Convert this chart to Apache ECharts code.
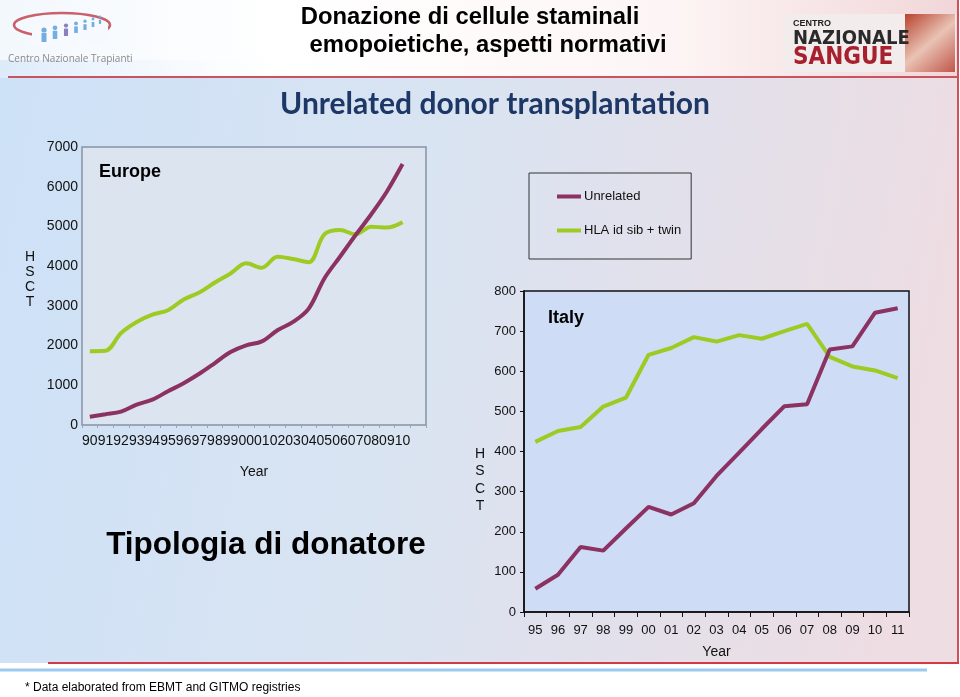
<!DOCTYPE html>
<html>
<head>
<meta charset="utf-8">
<script src="https://cdn.jsdelivr.net/npm/echarts@6/dist/echarts.min.js"></script>
<style>
html,body{margin:0;padding:0;background:#fff;}
#c{width:960px;height:697px;}
</style>
</head>
<body>
<div id="c"></div>
<script>
// ---- data ----
const euroYears = ['90','91','92','93','94','95','96','97','98','99','00','01','02','03','04','05','06','07','08','09','10',''];
const euroUnrelated = [210,270,337,513,640,850,1054,1290,1560,1837,2005,2105,2385,2595,2930,3690,4237,4785,5307,5880,6570];
const euroSibling = [1860,1870,2317,2595,2780,2890,3160,3335,3590,3815,4070,3960,4237,4180,4100,4800,4910,4800,4995,4970,5105];
const euroTicks = [0,1000,2000,3000,4000,5000,6000,7000];

const italyYears = ['95','96','97','98','99','00','01','02','03','04','05','06','07','08','09','10','11'];
const italyUnrelated = [58,93,162,153,208,262,243,271,339,397,456,513,518,654,662,746,757];
const italySibling = [424,451,461,512,534,641,658,685,674,690,681,700,718,636,612,602,583];
const italyTicks = [0,100,200,300,400,500,600,700,800];

const seriesNames = ['Unrelated','HLA id sib + twin'];
const PURPLE = '#8c3262';
const GREEN = '#9dcb23';
const FONT = '"Liberation Sans", Arial, sans-serif';

const chart = echarts.init(document.getElementById('c'), null, {renderer:'canvas'});

function txt(text, x, y, size, opts){
  opts = opts || {};
  const st = {text:text, x:x, y:y,
    font:(opts.weight||'normal')+' '+size+'px '+(opts.family||FONT),
    fill:opts.color||'#000', textAlign:opts.align||'left', textVerticalAlign:'middle'};
  if (opts.lineHeight) st.lineHeight = opts.lineHeight;
  return {type:'text', z: 10, style:st};
}

// small "people" figures of the left logo
const people = [];
const peopleX = [44,55,66,76,85,93,100];
peopleX.forEach(function(px, i){
  const s = 1 - i*0.09;
  const col = i === 2 ? '#8a7fbf' : '#74aee0';
  people.push({type:'circle', z:-2, shape:{cx:px, cy:30 - i*2.2, r:2.6*s}, style:{fill:col}});
  people.push({type:'rect', z:-2, shape:{x:px-2.5*s, y:33 - i*2.2, width:5*s, height:9*s}, style:{fill:col}});
});

const graphics = [
  // slide background
  {type:'rect', z:-10, shape:{x:0,y:0,width:960,height:697}, style:{fill:'#ffffff'}},
  {type:'rect', z:-9, shape:{x:0,y:78,width:958,height:585},
   style:{fill:new echarts.graphic.LinearGradient(0,0,1,0.3,[
     {offset:0,color:'#cde1f7'},{offset:0.45,color:'#d9e4f2'},{offset:0.75,color:'#e3e0ea'},{offset:1,color:'#eedde3'}])}},
  {type:'rect', z:-9, shape:{x:0,y:0,width:958,height:78},
   style:{fill:new echarts.graphic.LinearGradient(0,0,1,0,[
     {offset:0,color:'#f3f8fd'},{offset:0.3,color:'#ffffff'},{offset:0.7,color:'#fdf5f5'},{offset:1,color:'#f1d6d9'}])}},
  {type:'rect', z:-8, shape:{x:0,y:60,width:300,height:18},
   style:{fill:new echarts.graphic.LinearGradient(0,0,1,0,[
     {offset:0,color:'rgba(205,225,247,0.6)'},{offset:1,color:'rgba(255,255,255,0)'}])}},
  // header line
  {type:'line', z:-5, shape:{x1:8,y1:77,x2:957,y2:77}, style:{stroke:'#c9545f',lineWidth:2}},
  // right border
  {type:'line', z:-5, shape:{x1:958,y1:0,x2:958,y2:663}, style:{stroke:'#d0505c',lineWidth:2}},
  // bottom lines
  {type:'line', z:-5, shape:{x1:48,y1:663,x2:959,y2:663}, style:{stroke:'#d23a48',lineWidth:2}},
  {type:'rect', z:-5, shape:{x:0,y:665,width:960,height:32}, style:{fill:'#ffffff'}},
  {type:'line', z:-5, shape:{x1:0,y1:670,x2:927,y2:670}, style:{stroke:'#9ccaf0',lineWidth:3}},
  // left logo
  {type:'ellipse', z:-4, shape:{cx:62,cy:25,rx:48,ry:12}, style:{fill:'none',stroke:'#c9606a',lineWidth:2.5}},
  {type:'rect', z:-3, shape:{x:32,y:25,width:76,height:20}, style:{fill:'#f6f9fd'}},
  txt('Centro Nazionale Trapianti', 8, 59, 10, {color:'#8a8a8a', family:'"Open Sans", sans-serif'}),
  // right logo
  {type:'rect', z:-4, shape:{x:783,y:14,width:173,height:58}, style:{fill:'#f3ecec'}},
  {type:'rect', z:-3, shape:{x:905,y:14,width:50,height:58},
   style:{fill:new echarts.graphic.LinearGradient(0,0,1,1,[
     {offset:0,color:'#b8432f'},{offset:0.5,color:'#e9c3b4'},{offset:1,color:'#c0564a'}])}},
  txt('CENTRO', 793, 24, 9, {weight:'bold', color:'#222'}),
  txt('NAZIONALE', 793, 39, 20, {weight:'bold', color:'#2a2a2a', family:'"DejaVu Sans Condensed", "Liberation Sans Narrow", sans-serif'}),
  txt('SANGUE', 793, 58, 24, {weight:'bold', color:'#a8202e', family:'"DejaVu Sans Condensed", "Liberation Sans Narrow", sans-serif'}),
  // headings
  txt('Donazione di cellule staminali', 470, 17, 23.8, {weight:'bold', align:'center'}),
  txt('emopoietiche, aspetti normativi', 488, 45, 23.8, {weight:'bold', align:'center'}),
  txt('Unrelated donor transplantation', 495, 104, 30, {weight:'bold', align:'center', color:'#1d3766', family:'Lato, "Open Sans", sans-serif'}),
  txt('Europe', 99, 172, 18, {weight:'bold'}),
  txt('Italy', 548, 318, 18, {weight:'bold'}),
  // vertical axis titles (stacked letters)
  txt('H\nS\nC\nT', 30, 280, 14, {align:'center', color:'#111', lineHeight:15}),
  txt('H\nS\nC\nT', 480, 480, 14, {align:'center', color:'#111', lineHeight:17.5}),
  txt('Tipologia di donatore', 266, 545, 31.5, {weight:'bold', align:'center'}),
  txt('* Data elaborated from EBMT and GITMO registries', 25, 688, 12)
].concat(people);

const plain = function(v){ return String(v); };

const option = {
  animation:false,
  backgroundColor:'transparent',
  graphic: graphics,
  legend:{
    left:529, top:173, orient:'vertical',
    padding:[17,10,22,28], itemGap:21,
    borderColor:'#333', borderWidth:1,
    icon:'rect', itemWidth:24, itemHeight:4,
    textStyle:{fontFamily:FONT, fontSize:13, color:'#111', padding:[0,0,0,-2]},
    data:seriesNames
  },
  grid:[
    {left:82, top:147, width:344, height:278, show:true, backgroundColor:'#dce4ef', borderColor:'#8592a8', borderWidth:1.5},
    {left:524, top:291, width:385, height:321, show:true, backgroundColor:'#cfdcf5', borderColor:'#111', borderWidth:1.5}
  ],
  xAxis:[
    {type:'category', gridIndex:0, data:euroYears, boundaryGap:true,
     axisLine:{show:false}, axisTick:{show:true, length:3, lineStyle:{color:'#9aa5b5'}},
     axisLabel:{interval:0, fontFamily:FONT, fontSize:14, color:'#111', margin:9},
     name:'Year', nameLocation:'middle', nameGap:40, nameTextStyle:{fontFamily:FONT, fontSize:14, color:'#111'}},
    {type:'category', gridIndex:1, data:italyYears, boundaryGap:true,
     axisLine:{show:true, lineStyle:{color:'#111', width:1.5}}, axisTick:{show:true, length:5, lineStyle:{color:'#111'}},
     axisLabel:{interval:0, fontFamily:FONT, fontSize:13, color:'#111', margin:12},
     name:'Year', nameLocation:'middle', nameGap:33, nameTextStyle:{fontFamily:FONT, fontSize:14, color:'#111'}}
  ],
  yAxis:[
    {type:'value', gridIndex:0, min:euroTicks[0], max:euroTicks[euroTicks.length-1], interval:1000,
     axisLine:{show:false}, axisTick:{show:false}, splitLine:{show:false},
     axisLabel:{fontFamily:FONT, fontSize:14, color:'#111', margin:4, formatter:plain}},
    {type:'value', gridIndex:1, min:italyTicks[0], max:italyTicks[italyTicks.length-1], interval:100,
     axisLine:{show:true, lineStyle:{color:'#111', width:1.5}}, axisTick:{show:true, length:4, lineStyle:{color:'#111'}},
     splitLine:{show:false},
     axisLabel:{fontFamily:FONT, fontSize:13, color:'#111', margin:8, formatter:plain}}
  ],
  series:[
    {name:seriesNames[0], type:'line', xAxisIndex:0, yAxisIndex:0, data:euroUnrelated, smooth:0.35,
     showSymbol:false, lineStyle:{color:PURPLE, width:4}, itemStyle:{color:PURPLE}, z:3},
    {name:seriesNames[1], type:'line', xAxisIndex:0, yAxisIndex:0, data:euroSibling, smooth:0.35,
     showSymbol:false, lineStyle:{color:GREEN, width:4}, itemStyle:{color:GREEN}, z:2},
    {name:seriesNames[0], type:'line', xAxisIndex:1, yAxisIndex:1, data:italyUnrelated,
     showSymbol:false, lineStyle:{color:PURPLE, width:4}, itemStyle:{color:PURPLE}, z:3},
    {name:seriesNames[1], type:'line', xAxisIndex:1, yAxisIndex:1, data:italySibling,
     showSymbol:false, lineStyle:{color:GREEN, width:4}, itemStyle:{color:GREEN}, z:2}
  ]
};
chart.setOption(option);
</script>
</body>
</html>
